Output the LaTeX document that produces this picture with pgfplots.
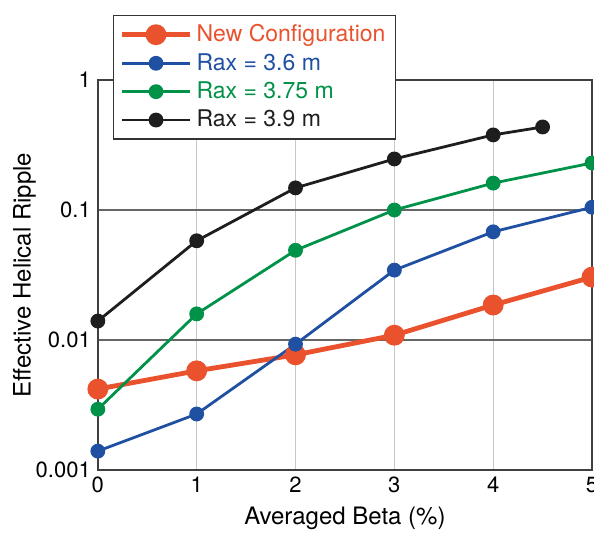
\documentclass[border=0pt]{standalone}
\usepackage{fontspec}
\setmainfont{TeX Gyre Heros}
\usepackage{pgfplots}
\pgfplotsset{compat=1.18}

\definecolor{cred}{RGB}{234,82,46}
\definecolor{cblue}{RGB}{32,80,162}
\definecolor{cgreen}{RGB}{0,146,72}
\definecolor{cblack}{RGB}{30,30,30}

\begin{document}
\begin{tikzpicture}
\begin{axis}[
    scale only axis,
    width=247pt, height=195pt,
    ymode=log,
    xmin=0, xmax=5,
    ymin=0.001, ymax=1,
    xtick={0,1,2,3,4,5},
    ytick={0.001,0.01,0.1,1},
    yticklabels={0.001,0.01,0.1,1},
    minor ytick={},
    tick style={draw=none},
    xlabel={Averaged Beta (\%)},
    ylabel={Effective Helical Ripple},
    label style={font=\fontsize{12}{14}\selectfont},
    tick label style={font=\fontsize{11}{13}\selectfont},
    /pgf/number format/assume math mode=true,
    xlabel style={yshift=0pt},
    ylabel style={yshift=-7pt},
    axis line style={draw=black!75, line width=0.8pt},
    xmajorgrids, ymajorgrids,
    x grid style={draw=black!22, line width=0.4pt},
    y grid style={draw=black!60, line width=0.7pt},
    clip=false,
    legend cell align=left,
    legend style={at={(rel axis cs:0.03,1.167)}, anchor=north west,
        draw=black!80, line width=0.8pt, font=\fontsize{11.5}{13.5}\selectfont,
        inner xsep=3pt, inner ysep=2.5pt, row sep=0.3pt,
        /tikz/every even column/.append style={column sep=1pt}},
    legend image code/.code={
        \draw[mark repeat=2, mark phase=2]
            plot coordinates {(0cm,0cm) (0.6cm,0cm) (1.2cm,0cm)};},
]
\addplot[cred, line width=2.4pt, mark=*, mark size=4pt] coordinates {
    (0,0.0042) (1,0.0058) (2,0.0077) (3,0.0109) (4,0.0186) (5,0.0305)
};
\addlegendentry{\textcolor{cred}{New Configuration}}
\addplot[cblue, line width=1.4pt, mark=*, mark size=3pt] coordinates {
    (0,0.0014) (1,0.0027) (2,0.0093) (3,0.0345) (4,0.068) (5,0.105)
};
\addlegendentry{\textcolor{cblue}{Rax = 3.6 m}}
\addplot[cgreen, line width=1.4pt, mark=*, mark size=3pt] coordinates {
    (0,0.00294) (1,0.0159) (2,0.049) (3,0.1) (4,0.161) (5,0.23)
};
\addlegendentry{\textcolor{cgreen}{Rax = 3.75 m}}
\addplot[cblack, line width=1.4pt, mark=*, mark size=3pt] coordinates {
    (0,0.014) (1,0.058) (2,0.148) (3,0.247) (4,0.378) (4.5,0.435)
};
\addlegendentry{\textcolor{cblack}{Rax = 3.9 m}}
\coordinate (bbsw) at (rel axis cs:-0.198,-0.159);
\coordinate (bbne) at (rel axis cs:1.004,1.205);
\end{axis}
\pgfresetboundingbox
\path[use as bounding box] (bbsw) rectangle (bbne);
\end{tikzpicture}
\end{document}
